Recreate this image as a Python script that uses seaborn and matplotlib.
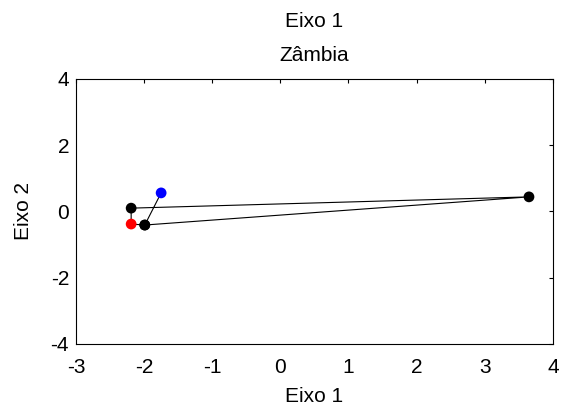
import pandas as pd
import matplotlib
matplotlib.use('Agg')
import matplotlib.pyplot as plt
import seaborn as sns

# pontos (Eixo 1, Eixo 2)
eixo1 = [-1.75, -1.99, -2.19, -2.19, 3.65, -1.99]
eixo2 = [0.56, -0.41, -0.38, 0.10, 0.44, -0.41]
cores = ['blue', 'black', 'red', 'black', 'black', 'black']

sns.set_style('white')
plt.rcParams['font.family'] = ['Liberation Sans', 'DejaVu Sans']
plt.rcParams['font.size'] = 15
plt.rcParams['text.color'] = 'black'
plt.rcParams['axes.labelcolor'] = 'black'
plt.rcParams['xtick.color'] = 'black'
plt.rcParams['ytick.color'] = 'black'

df = pd.DataFrame({'x': eixo1, 'y': eixo2, 'cor': cores})

fig = plt.figure(figsize=(5.67, 4.09), dpi=100)
ax = fig.add_axes([0.134, 0.159, 0.841, 0.648])

sns.lineplot(data=df, x='x', y='y', sort=False, estimator=None,
             color='black', linewidth=0.8, ax=ax)
# pontos pretos primeiro, depois vermelho e azul por cima
ordem = df.sort_values('cor', key=lambda s: s.map({'black': 0, 'red': 1, 'blue': 2}))
sns.scatterplot(data=ordem, x='x', y='y', hue='cor',
                palette={'black': 'black', 'red': 'red', 'blue': 'blue'},
                s=60, edgecolor='none', legend=False, ax=ax, zorder=3)

ax.set_xlim(-3, 4)
ax.set_ylim(-4, 4)
ax.set_xticks(range(-3, 5))
ax.set_yticks([-4, -2, 0, 2, 4])
ax.set_xticklabels([str(v) for v in range(-3, 5)])
ax.set_yticklabels(['-4', '-2', '0', '2', '4'])
ax.tick_params(direction='in', length=3, width=0.8, top=True, right=True,
               labelsize=15, color='black', labelcolor='black')
ax.tick_params(axis='x', pad=10)
ax.tick_params(axis='y', pad=5)
for sp in ax.spines.values():
    sp.set_visible(True)
    sp.set_color('black')
    sp.set_linewidth(0.8)

ax.set_xlabel('Eixo 1', fontsize=15, color='black')
ax.set_ylabel('Eixo 2', fontsize=15, color='black')
ax.xaxis.set_label_coords(0.5, -0.162)
ax.yaxis.set_label_coords(-0.090, 0.5)

ax.set_title('Zâmbia', fontsize=15, pad=13, color='black')
fig.text(0.5 * (0.134 + 0.975), 1 - 27.3 / 409, 'Eixo 1', fontsize=15,
         ha='center', va='baseline', color='black')

fig.savefig('out.png', dpi=100)
